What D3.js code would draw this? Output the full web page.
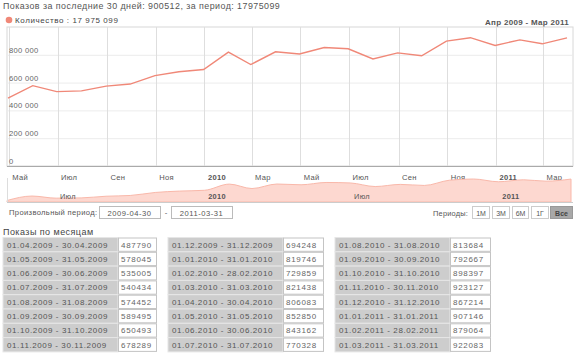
<!DOCTYPE html>
<html><head><meta charset="utf-8">
<script src="https://cdn.jsdelivr.net/npm/d3@7"></script>
<style>
body{margin:0;background:#fff;}
svg{display:block;font-family:"Liberation Sans",Arial,sans-serif;}
</style></head><body>
<svg id="c" width="575" height="353"></svg>
<script>
// ---- data ----
const months = ["2009-04","2009-05","2009-06","2009-07","2009-08","2009-09","2009-10","2009-11",
  "2009-12","2010-01","2010-02","2010-03","2010-04","2010-05","2010-06","2010-07",
  "2010-08","2010-09","2010-10","2010-11","2010-12","2011-01","2011-02","2011-03"];
const values = [487790,578045,535005,540434,574452,589495,650493,678289,
  694248,819746,729859,821438,806083,852850,843162,770328,
  813684,792667,898397,923127,867214,907146,879064,922083];
const xTickLabels = ["Май","Июл","Сен","Ноя","2010","Мар","Май","Июл","Сен","Ноя","2011","Мар"];
const navTickLabels = ["Июл","2010","Июл","2011"];
const yTicks = [0,200000,400000,600000,800000];
const headerText = "Показов за последние 30 дней: 900512, за период: 17975099";
const legendText = "Количество : 17 975 099";
const rangeText = "Апр 2009 - Мар 2011";
const periodFrom = "2009-04-30", periodTo = "2011-03-31";
const periodButtons = ["1М","3М","6М","1Г","Все"];

// ---- derived ----
const parseM = d3.timeParse("%Y-%m");
const starts = months.map(parseM);
const ends = starts.map(d => d3.timeDay.offset(d3.timeMonth.offset(d,1),-1));
const pts = ends.map((d,i)=>({date:d, v:values[i]}));
const fmtD = d3.timeFormat("%d.%m.%Y");

const svg = d3.select("#c");
const txtCol = "#555";
const lineCol = "#f08878";

// header
svg.append("text").attr("x",3).attr("y",9).attr("font-size",8.9).attr("letter-spacing",0.45).attr("fill",txtCol).text(headerText);
svg.append("circle").attr("cx",9).attr("cy",20).attr("r",3.3).attr("fill",lineCol);
svg.append("text").attr("x",15).attr("y",23).attr("font-size",8).attr("letter-spacing",0.6).attr("fill","#444").text(legendText);
svg.append("text").attr("x",569).attr("y",25).attr("font-size",8).attr("font-weight","bold").attr("letter-spacing",0.3)
  .attr("text-anchor","end").attr("fill",txtCol).text(rangeText);

// main plot
const L=7,R=573,T=27,B=166;
const x = d3.scaleTime().domain([ends[0], ends[ends.length-1]]).range([8,567]);
const y = d3.scaleLinear().domain([0,1000000]).range([B,T]);
svg.append("rect").attr("x",L).attr("y",T).attr("width",R-L).attr("height",B-T)
  .attr("fill","#fff").attr("stroke","#d8d8d8");
svg.append("g").selectAll("line").data(yTicks.filter(d=>d>0)).join("line")
  .attr("x1",L).attr("x2",R).attr("y1",d=>y(d)+0.5).attr("y2",d=>y(d)+0.5)
  .attr("stroke","#ececec");
const tickDates = d3.timeMonths(new Date(2009,4,1), new Date(2011,3,2), 2);
svg.append("g").selectAll("line").data(tickDates).join("line")
  .attr("x1",d=>Math.round(x(d))+0.5).attr("x2",d=>Math.round(x(d))+0.5)
  .attr("y1",T).attr("y2",B).attr("stroke","#dedede");
const yfmt = d => d===0 ? "0" : d3.format(",")(d).replace(/,/g," ");
svg.append("g").selectAll("text").data(yTicks).join("text")
  .attr("x",9).attr("y",d=>y(d)-2).attr("font-size",7.6).attr("letter-spacing",0.3).attr("fill","#666").text(yfmt);
svg.append("line").attr("x1",L).attr("x2",R).attr("y1",B+0.5).attr("y2",B+0.5).attr("stroke","#aaa");
// x axis
const xAxis = d3.axisBottom(x).tickValues(tickDates).tickSize(0).tickFormat((d,i)=>xTickLabels[i]);
const gx = svg.append("g").attr("transform",`translate(0,${B})`).call(xAxis);
gx.select(".domain").remove();
gx.selectAll("text").attr("text-anchor","start").attr("dx",3).attr("y",9)
  .attr("font-size",7.6).attr("letter-spacing",0.3).attr("fill","#555").attr("font-family","Liberation Sans, Arial, sans-serif")
  .attr("font-weight",(d,i)=>/^\d+$/.test(xTickLabels[i])?"bold":"normal");
// line
svg.append("path").datum(pts).attr("fill","none").attr("stroke",lineCol).attr("stroke-width",1.4)
  .attr("d",d3.line().x(d=>x(d.date)).y(d=>y(d.v)));

// navigator
const NT=178, NB=202;
const xn = d3.scaleTime().domain(x.domain()).range([7,571]);
const yn = d3.scaleLinear().domain(d3.extent(values)).range([200.5,179]);
svg.append("path").datum(pts).attr("fill","#fdd8d0").attr("stroke","#f9b8aa").attr("stroke-width",1)
  .attr("d",d3.area().x(d=>xn(d.date)).y0(NB).y1(d=>yn(d.v)).curve(d3.curveMonotoneX));
svg.append("line").attr("x1",L).attr("x2",R).attr("y1",NB+0.5).attr("y2",NB+0.5).attr("stroke","#ccc");
svg.append("line").attr("x1",L+0.5).attr("x2",L+0.5).attr("y1",NT).attr("y2",NB).attr("stroke","#ddd");
const navDates = [new Date(2009,6,1),new Date(2010,0,1),new Date(2010,6,1),new Date(2011,0,1)];
svg.append("g").selectAll("text").data(navDates).join("text")
  .attr("x",d=>xn(d)+3).attr("y",199).attr("font-size",7.4).attr("letter-spacing",0.3).attr("fill","#555")
  .attr("font-weight",(d,i)=>/^\d+$/.test(navTickLabels[i])?"bold":"normal")
  .text((d,i)=>navTickLabels[i]);

// period inputs
svg.append("text").attr("x",9).attr("y",215).attr("font-size",7.6).attr("letter-spacing",0.35).attr("fill",txtCol).text("Произвольный период:");
[[99,160,periodFrom],[171,232,periodTo]].forEach(([a,b,t])=>{
  svg.append("rect").attr("x",a+0.5).attr("y",206.5).attr("width",b-a).attr("height",12).attr("fill","#fff").attr("stroke","#bbb");
  svg.append("text").attr("x",(a+b)/2).attr("y",215.5).attr("text-anchor","middle").attr("font-size",7.6).attr("letter-spacing",0.5).attr("fill",txtCol).text(t);
});
svg.append("text").attr("x",166).attr("y",215).attr("text-anchor","middle").attr("font-size",7.6).attr("fill",txtCol).text("-");
svg.append("text").attr("x",468).attr("y",215.5).attr("text-anchor","end").attr("font-size",7.4).attr("letter-spacing",0.2).attr("fill",txtCol).text("Периоды:");
const btnX = [[472,489],[492,509],[512,528],[531,548],[550,572]];
periodButtons.forEach((t,i)=>{
  const [a,b]=btnX[i]; const sel = i===periodButtons.length-1;
  svg.append("rect").attr("x",a+0.5).attr("y",206.5).attr("width",b-a).attr("height",12)
    .attr("fill",sel?"#a8a8a8":"#fff").attr("stroke",sel?"#999":"#ccc");
  svg.append("text").attr("x",(a+b)/2+0.5).attr("y",215.5).attr("text-anchor","middle").attr("font-size",7)
    .attr("fill",sel?"#444":"#555").attr("font-weight",sel?"bold":"normal").text(t);
});

// monthly table
svg.append("text").attr("x",3).attr("y",235).attr("font-size",9).attr("letter-spacing",0.45).attr("fill","#444").text("Показы по месяцам");
const tables = [[3,118,157],[168,283,324],[335,450,491]];
const rowH = 14.3, top0 = 237.5;
pts.forEach((d,i)=>{
  const t = tables[Math.floor(i/8)], r = i%8, yy = top0 + r*rowH;
  svg.append("rect").attr("x",t[0]).attr("y",yy).attr("width",t[1]-t[0]).attr("height",rowH)
    .attr("fill","#cdcdcd").attr("stroke","#e6e6e6").attr("stroke-width",1);
  svg.append("rect").attr("x",t[1]+0.5).attr("y",yy+0.5).attr("width",t[2]-t[1]-1).attr("height",rowH-1)
    .attr("fill","#fff").attr("stroke","#c4c4c4").attr("stroke-width",1);
  svg.append("text").attr("x",t[0]+4).attr("y",yy+10).attr("font-size",8).attr("letter-spacing",0.6).attr("fill","#555")
    .text(fmtD(starts[i])+" - "+fmtD(ends[i]));
  svg.append("text").attr("x",t[1]+3).attr("y",yy+10).attr("font-size",8).attr("letter-spacing",0.7).attr("fill","#666")
    .text(d.v);
});
</script>
</body></html>
